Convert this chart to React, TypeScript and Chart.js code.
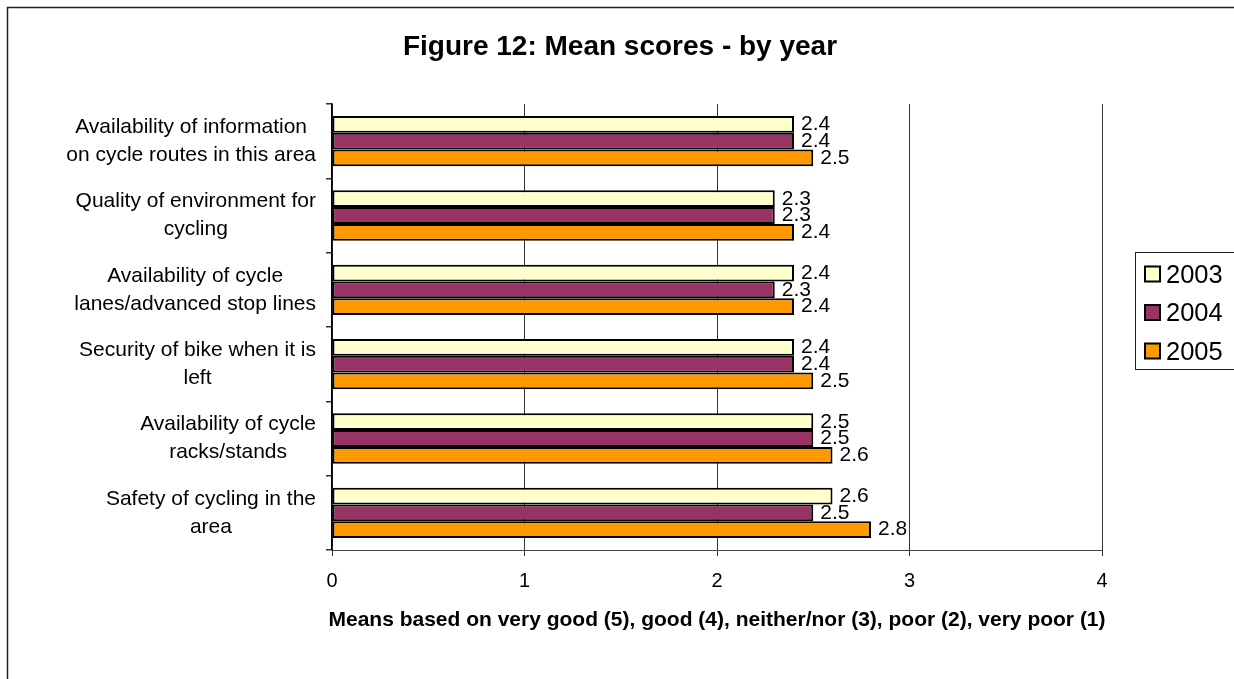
import React, { useEffect, useRef } from 'react';
import { Chart, registerables } from 'chart.js';

Chart.register(...registerables);

const titleText = 'Figure 12: Mean scores - by year';
const xAxisTitle = 'Means based on very good (5), good (4), neither/nor (3), poor (2), very poor (1)';

const categoryLines: string[][] = [
  ['Availability of information', 'on cycle routes in this area'],
  ['Quality of environment for', 'cycling'],
  ['Availability of cycle', 'lanes/advanced stop lines'],
  ['Security of bike when it is', 'left'],
  ['Availability of cycle', 'racks/stands'],
  ['Safety of cycling in the', 'area'],
];

const years = ['2003', '2004', '2005'];
const values2003 = [2.4, 2.3, 2.4, 2.4, 2.5, 2.6];
const values2004 = [2.4, 2.3, 2.3, 2.4, 2.5, 2.5];
const values2005 = [2.5, 2.4, 2.4, 2.5, 2.6, 2.8];
const xMin = 0;
const xMax = 4;
const xStep = 1;

const seriesColors = ['#FFFFCC', '#993366', '#FF9900'];
const FONT = '"Liberation Sans", Arial, sans-serif';

const decorPlugin = {
  id: 'decor',
  beforeDraw(chart: any) {
    const ctx = chart.ctx;
    ctx.save();
    ctx.fillStyle = '#ffffff';
    ctx.fillRect(0, 0, chart.width, chart.height);
    ctx.strokeStyle = '#222222';
    ctx.lineWidth = 1.5;
    ctx.strokeRect(7.5, 7.5, chart.width + 20, chart.height + 20);
    ctx.restore();
  },
  afterDraw(chart: any) {
    const ctx = chart.ctx;
    const area = chart.chartArea;
    const yScale = chart.scales.y;
    ctx.save();
    ctx.fillStyle = '#000000';

    // Title
    ctx.font = `bold 28px ${FONT}`;
    ctx.textAlign = 'center';
    ctx.textBaseline = 'alphabetic';
    ctx.fillText(titleText, 620, 55);

    // X-axis title
    ctx.font = `bold 21px ${FONT}`;
    ctx.fillText(xAxisTitle, (area.left + area.right) / 2, 626);

    // Category labels (centered lines, block right-aligned)
    ctx.font = `21px ${FONT}`;
    ctx.textBaseline = 'middle';
    categoryLines.forEach((lines, i) => {
      const y = yScale.getPixelForValue(i);
      const maxW = Math.max(...lines.map((l) => ctx.measureText(l).width));
      const cx = area.left - 16 - maxW / 2;
      lines.forEach((line, j) => {
        ctx.fillText(line, cx, y + (j - (lines.length - 1) / 2) * 28);
      });
    });

    // Data labels
    ctx.font = `21px ${FONT}`;
    ctx.textAlign = 'left';
    ctx.textBaseline = 'middle';
    chart.data.datasets.forEach((ds: any, di: number) => {
      const meta = chart.getDatasetMeta(di);
      meta.data.forEach((el: any, i: number) => {
        ctx.fillText(Number(ds.data[i]).toFixed(1), el.x + 7, el.y);
      });
    });

    // Legend
    ctx.strokeStyle = '#222222';
    ctx.lineWidth = 1;
    ctx.strokeRect(1135.5, 252.5, 120, 117);
    ctx.font = `25.5px ${FONT}`;
    ctx.textBaseline = 'alphabetic';
    chart.data.datasets.forEach((ds: any, di: number) => {
      const cy = 273.5 + di * 38.5;
      ctx.fillStyle = ds.backgroundColor;
      ctx.fillRect(1145, cy - 7, 15, 15);
      ctx.strokeStyle = '#000000';
      ctx.lineWidth = 2;
      ctx.strokeRect(1145, cy - 7, 15, 15);
      ctx.fillStyle = '#000000';
      ctx.fillText(ds.label, 1166, cy + 9);
    });

    ctx.restore();
  },
};

export default function App() {
  const canvasRef = useRef<HTMLCanvasElement | null>(null);

  useEffect(() => {
    if (!canvasRef.current) return;
    const seriesValues = [values2003, values2004, values2005];
    const chart = new Chart(canvasRef.current, {
      type: 'bar',
      data: {
        labels: categoryLines.map((l) => l.join(' ')),
        datasets: years.map((yr, i) => ({
          label: yr,
          data: seriesValues[i],
          backgroundColor: seriesColors[i],
          borderColor: '#000000',
          borderWidth: 2,
          borderSkipped: false,
          barPercentage: 1,
          categoryPercentage: 0.677,
        })),
      },
      options: {
        indexAxis: 'y',
        responsive: false,
        animation: false,
        layout: { padding: { left: 0, top: 104, right: 132, bottom: 0 } },
        plugins: {
          legend: { display: false },
          title: { display: false },
          tooltip: { enabled: false },
        },
        scales: {
          x: {
            type: 'linear',
            min: xMin,
            max: xMax,
            ticks: {
              stepSize: xStep,
              color: '#000000',
              font: { family: FONT, size: 20 },
              padding: 13,
            },
            grid: {
              color: '#333333',
              lineWidth: 1,
              drawTicks: true,
              tickLength: 6,
              tickColor: '#333333',
            },
            border: { display: true, color: '#444444', width: 1 },
            afterFit: (s: any) => {
              s.height = 129;
            },
          },
          y: {
            type: 'category',
            ticks: { display: false },
            grid: {
              offset: true,
              drawOnChartArea: false,
              drawTicks: true,
              tickLength: 6,
              tickColor: '#333333',
              lineWidth: 1.5,
            },
            border: { display: true, color: '#000000', width: 1.5 },
            afterFit: (s: any) => {
              s.width = 332;
            },
          },
        },
      },
      plugins: [decorPlugin],
    });
    return () => chart.destroy();
  }, []);

  return (
    <div style={{ position: 'absolute', left: 0, top: 0, width: 1234, height: 679 }}>
      <canvas ref={canvasRef} width={1234} height={679} />
    </div>
  );
}
